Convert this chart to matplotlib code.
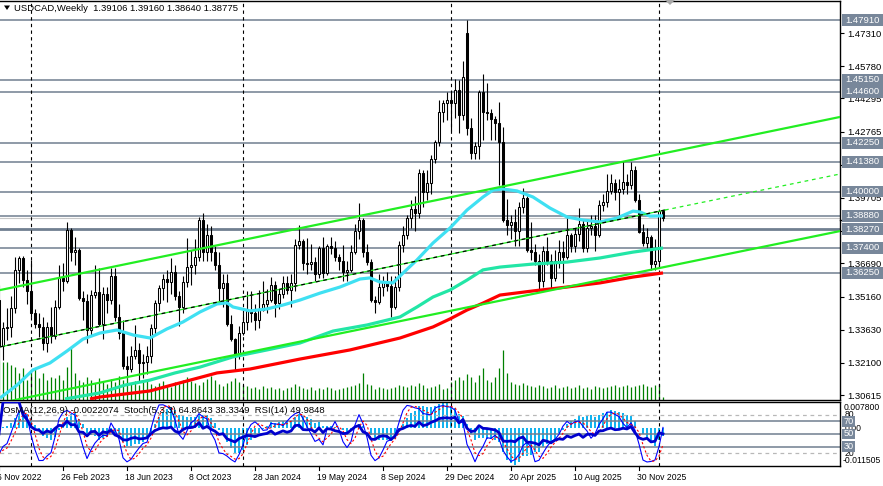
import numpy as np
import matplotlib
matplotlib.use("Agg")
import matplotlib.pyplot as plt
from matplotlib.patches import Rectangle, Polygon
from matplotlib.lines import Line2D
from matplotlib.transforms import blended_transform_factory as blend
from matplotlib import font_manager

plt.rcParams['font.family'] = ['Liberation Sans', 'DejaVu Sans']

# ---------------- data ----------------
symbol_title = "USDCAD,Weekly"
header_ohlc = "1.39106 1.39160 1.38640 1.38775"
indicator_header = "OsMA(12,26,9) -0.0022074  Stoch(5,3,3) 64.8643 38.3349  RSI(14) 49.9848"

opens = [
    1.3500, 1.3290, 1.3370, 1.3377, 1.3462, 1.3639, 1.3693, 1.3593, 1.3540, 1.3440,
    1.3390, 1.3375, 1.3302, 1.3375, 1.3335, 1.3470, 1.3600, 1.3590, 1.3823, 1.3723,
    1.3731, 1.3510, 1.3495, 1.3361, 1.3525, 1.3538, 1.3390, 1.3530, 1.3500, 1.3610,
    1.3420, 1.3350, 1.3195, 1.3180, 1.3240, 1.3270, 1.3209, 1.3216, 1.3240, 1.3371,
    1.3485, 1.3554, 1.3596, 1.3585, 1.3631, 1.3520, 1.3470, 1.3585, 1.3654, 1.3660,
    1.3700, 1.3869, 1.3720, 1.3800, 1.3720, 1.3660, 1.3555, 1.3580, 1.3390, 1.3320,
    1.3250, 1.3350, 1.3400, 1.3450, 1.3440, 1.3410, 1.3455, 1.3480, 1.3500, 1.3570,
    1.3485, 1.3530, 1.3580, 1.3545, 1.3580, 1.3755, 1.3770, 1.3670, 1.3665, 1.3675,
    1.3620, 1.3740, 1.3625, 1.3750, 1.3740, 1.3700, 1.3680, 1.3630, 1.3640, 1.3720,
    1.3820, 1.3869, 1.3723, 1.3677, 1.3500, 1.3490, 1.3560, 1.3585, 1.3565, 1.3470,
    1.3560, 1.3754, 1.3800, 1.3880, 1.3920, 1.3900, 1.4086, 1.3998, 1.4040, 1.4150,
    1.4230, 1.4368, 1.4408, 1.4420, 1.4410, 1.4468, 1.4353, 1.4730, 1.4292, 1.4178,
    1.4210, 1.4460, 1.4368, 1.4360, 1.4336, 1.4316, 1.4230, 1.3870, 1.3845, 1.3860,
    1.3820, 1.3930, 1.3970, 1.3731, 1.3720, 1.3680, 1.3590, 1.3725, 1.3680, 1.3600,
    1.3680, 1.3720, 1.3700, 1.3800, 1.3750, 1.3805, 1.3850, 1.3740, 1.3830, 1.3840,
    1.3800, 1.3938, 1.3950, 1.4005, 1.4040, 1.4000, 1.4010, 1.4045, 1.4030, 1.4100,
    1.3960, 1.3815, 1.3765, 1.3790, 1.3665, 1.3680, 1.39106,
]
highs = [
    1.3570, 1.3400, 1.3465, 1.3520, 1.3700, 1.3705, 1.3705, 1.3640, 1.3685, 1.3460,
    1.3440, 1.3420, 1.3400, 1.3470, 1.3500, 1.3660, 1.3670, 1.3862, 1.3830, 1.3790,
    1.3740, 1.3540, 1.3530, 1.3545, 1.3660, 1.3650, 1.3560, 1.3560, 1.3650, 1.3650,
    1.3480, 1.3410, 1.3240, 1.3290, 1.3385, 1.3300, 1.3250, 1.3290, 1.3390, 1.3500,
    1.3570, 1.3620, 1.3640, 1.3695, 1.3660, 1.3540, 1.3610, 1.3785, 1.3730, 1.3780,
    1.3885, 1.3899, 1.3850, 1.3840, 1.3750, 1.3720, 1.3620, 1.3620, 1.3430, 1.3325,
    1.3380, 1.3440, 1.3540, 1.3540, 1.3480, 1.3545, 1.3590, 1.3550, 1.3605, 1.3590,
    1.3550, 1.3610, 1.3610, 1.3620, 1.3780, 1.3846, 1.3780, 1.3785, 1.3760, 1.3700,
    1.3750, 1.3790, 1.3760, 1.3790, 1.3770, 1.3710, 1.3755, 1.3680, 1.3755, 1.3850,
    1.3946, 1.3880, 1.3760, 1.3690, 1.3520, 1.3620, 1.3610, 1.3630, 1.3610, 1.3610,
    1.3770, 1.3840, 1.3890, 1.3960, 1.3980, 1.4105, 1.4100, 1.4100, 1.4170, 1.4240,
    1.4420, 1.4420, 1.4460, 1.4460, 1.4520, 1.4515, 1.4600, 1.4791, 1.4340, 1.4230,
    1.4470, 1.4541, 1.4500, 1.4380, 1.4350, 1.4415, 1.4300, 1.3965, 1.3890, 1.3920,
    1.3950, 1.4015, 1.3980, 1.3860, 1.3760, 1.3710, 1.3750, 1.3790, 1.3710, 1.3730,
    1.3775, 1.3770, 1.3880, 1.3810, 1.3830, 1.3925, 1.3870, 1.3870, 1.3890, 1.3890,
    1.3960, 1.3990, 1.4080, 1.4080, 1.4060, 1.4060, 1.4140, 1.4080, 1.4138, 1.4120,
    1.3990, 1.3850, 1.3830, 1.3800, 1.3780, 1.3920, 1.39160,
]
lows = [
    1.3225, 1.3225, 1.3315, 1.3330, 1.3440, 1.3580, 1.3560, 1.3480, 1.3420, 1.3370,
    1.3330, 1.3270, 1.3262, 1.3300, 1.3320, 1.3460, 1.3540, 1.3580, 1.3680, 1.3660,
    1.3500, 1.3410, 1.3300, 1.3340, 1.3510, 1.3380, 1.3320, 1.3440, 1.3480, 1.3405,
    1.3320, 1.3180, 1.3140, 1.3170, 1.3230, 1.3120, 1.3140, 1.3160, 1.3210, 1.3340,
    1.3450, 1.3500, 1.3490, 1.3530, 1.3500, 1.3380, 1.3440, 1.3560, 1.3570, 1.3620,
    1.3680, 1.3680, 1.3680, 1.3680, 1.3640, 1.3480, 1.3470, 1.3380, 1.3310, 1.3178,
    1.3230, 1.3340, 1.3360, 1.3400, 1.3360, 1.3370, 1.3450, 1.3440, 1.3490, 1.3420,
    1.3460, 1.3510, 1.3530, 1.3470, 1.3540, 1.3735, 1.3640, 1.3620, 1.3640, 1.3590,
    1.3600, 1.3600, 1.3615, 1.3710, 1.3680, 1.3640, 1.3590, 1.3590, 1.3630, 1.3710,
    1.3780, 1.3700, 1.3660, 1.3490, 1.3440, 1.3480, 1.3520, 1.3540, 1.3420, 1.3460,
    1.3540, 1.3720, 1.3780, 1.3830, 1.3820, 1.3880, 1.3930, 1.3960, 1.3990, 1.4130,
    1.4210, 1.4320, 1.4330, 1.4280, 1.4340, 1.4270, 1.4330, 1.4260, 1.4150, 1.4150,
    1.4150, 1.4240, 1.4330, 1.4240, 1.4240, 1.4030, 1.3860, 1.3800, 1.3780, 1.3750,
    1.3750, 1.3900, 1.3720, 1.3685, 1.3660, 1.3540, 1.3560, 1.3660, 1.3556, 1.3590,
    1.3650, 1.3580, 1.3690, 1.3720, 1.3720, 1.3770, 1.3720, 1.3720, 1.3800, 1.3725,
    1.3790, 1.3910, 1.3930, 1.3990, 1.3960, 1.3890, 1.3990, 1.3990, 1.4010, 1.3950,
    1.3810, 1.3750, 1.3740, 1.3640, 1.3640, 1.3650, 1.38640,
]
closes = [
    1.3290, 1.3370, 1.3377, 1.3462, 1.3639, 1.3693, 1.3593, 1.3540, 1.3440, 1.3390,
    1.3375, 1.3302, 1.3375, 1.3335, 1.3470, 1.3600, 1.3590, 1.3823, 1.3723, 1.3731,
    1.3510, 1.3495, 1.3361, 1.3525, 1.3538, 1.3390, 1.3530, 1.3500, 1.3610, 1.3420,
    1.3350, 1.3195, 1.3180, 1.3240, 1.3270, 1.3209, 1.3216, 1.3240, 1.3371, 1.3485,
    1.3554, 1.3596, 1.3585, 1.3631, 1.3520, 1.3470, 1.3585, 1.3654, 1.3660, 1.3700,
    1.3869, 1.3720, 1.3800, 1.3720, 1.3660, 1.3555, 1.3580, 1.3390, 1.3320, 1.3250,
    1.3350, 1.3400, 1.3450, 1.3440, 1.3410, 1.3455, 1.3480, 1.3500, 1.3570, 1.3485,
    1.3530, 1.3580, 1.3545, 1.3580, 1.3755, 1.3770, 1.3670, 1.3665, 1.3675, 1.3620,
    1.3740, 1.3625, 1.3750, 1.3740, 1.3700, 1.3680, 1.3630, 1.3640, 1.3720, 1.3820,
    1.3869, 1.3723, 1.3677, 1.3500, 1.3490, 1.3560, 1.3585, 1.3565, 1.3470, 1.3560,
    1.3754, 1.3800, 1.3880, 1.3920, 1.3900, 1.4086, 1.3998, 1.4040, 1.4150, 1.4230,
    1.4368, 1.4408, 1.4420, 1.4410, 1.4468, 1.4353, 1.4530, 1.4292, 1.4178, 1.4210,
    1.4460, 1.4368, 1.4360, 1.4336, 1.4316, 1.4230, 1.3870, 1.3845, 1.3860, 1.3820,
    1.3930, 1.3970, 1.3731, 1.3720, 1.3680, 1.3590, 1.3725, 1.3680, 1.3600, 1.3680,
    1.3720, 1.3700, 1.3800, 1.3750, 1.3805, 1.3850, 1.3740, 1.3830, 1.3840, 1.3800,
    1.3938, 1.3950, 1.4005, 1.4040, 1.4000, 1.4010, 1.4045, 1.4030, 1.4100, 1.3960,
    1.3815, 1.3765, 1.3790, 1.3665, 1.3680, 1.3911, 1.38775,
]
volumes = [
    400, 380, 380, 350, 330, 270, 320, 200, 270, 320, 220, 270, 200, 230, 220, 250,
    200, 330, 520, 270, 200, 180, 230,
    200, 170, 220, 190, 160, 210, 180, 240, 200, 220, 170, 190, 150, 180, 210, 160,
    140, 170, 190, 150, 130, 180, 160, 200, 230, 190, 170, 150, 180, 210, 240, 200,
    160, 140, 170, 190, 220, 180,
    150, 140, 120, 130, 110, 140, 120, 130, 110, 120, 100, 120, 130, 160, 140, 120,
    110, 130, 100, 120, 110, 130, 120, 100, 110, 120, 130, 140, 150, 170, 270, 160,
    150, 110, 130, 120, 110, 120, 130, 150, 140, 130, 150, 140, 170, 150, 120, 130,
    140, 160, 110, 120,
    180, 200, 230, 200, 260, 230, 180, 250, 320, 200, 180, 230, 320, 500, 270, 180,
    160, 150, 170, 150, 140, 130, 150, 140, 120, 130, 150, 120, 130, 140, 120, 130,
    150, 120, 130, 110, 140, 130, 120, 130, 140, 150, 130, 140, 150, 130, 140, 150,
    160, 140, 130, 150, 160, 30,
]

# moving averages (bar index, price)
ema50_bars = [0.25, 4.5, 8.5, 12.75, 17, 21, 25.25, 29.5, 33.5, 37.75, 42, 46, 50.25, 54.5, 57,
              58.5, 62.75, 67, 71, 75.25, 80.25, 85.25, 90.25, 92.75, 95.25, 98.5, 100.25,
              104.5, 108.5, 112.75, 117, 121, 123.5, 126, 129.5, 133.5, 137.75, 142, 146,
              150.25, 154.5, 158.5, 160.25, 162.75, 166]
ema50_vals = [1.3048, 1.3108, 1.3178, 1.3210, 1.3265, 1.3320, 1.3348, 1.3362, 1.3339, 1.3325,
              1.3367, 1.3399, 1.3445, 1.3482, 1.3487, 1.3468, 1.3450, 1.3459, 1.3477, 1.3500,
              1.3532, 1.3560, 1.3597, 1.3602, 1.3583, 1.3579, 1.3611, 1.3685, 1.3763, 1.3832,
              1.3915, 1.3975, 1.4007, 1.4012, 1.4003, 1.3975, 1.3924, 1.3883, 1.3869, 1.3860,
              1.3878, 1.3910, 1.3906, 1.3887, 1.3888]
ema144_bars = [16.5, 25.25, 31.5, 37.75, 44, 50.25, 58.5, 67, 75.25, 83.5, 92, 100.25, 104.5,
               108.5, 112.75, 117, 121, 125.25, 133.5, 142, 150.25, 158.5, 166]
ema144_vals = [1.3044, 1.3072, 1.3108, 1.3131, 1.3164, 1.3191, 1.3238, 1.3270, 1.3302, 1.3357,
               1.3385, 1.3422, 1.3468, 1.3514, 1.3546, 1.3592, 1.3639, 1.3652, 1.3666, 1.3675,
               1.3694, 1.3721, 1.3740]
ema200_bars = [22.75, 25.25, 37.75, 46, 54.5, 62.75, 75.25, 87.75, 100.25, 108.5, 112.75, 117,
               121, 125.25, 133.5, 142, 150.25, 158.5, 166]
ema200_vals = [1.3044, 1.3053, 1.3081, 1.3122, 1.3164, 1.3182, 1.3228, 1.3270, 1.3325, 1.3376,
               1.3413, 1.3454, 1.3486, 1.3523, 1.3542, 1.3560, 1.3579, 1.3606, 1.3625]

# trend channel anchors (bar index, price)
channel_upper_bars = [0.25, 210.25]
channel_upper_vals = [1.3546, 1.4344]
channel_lower_bars = [0.25, 210.25]
channel_lower_vals = [1.3025, 1.3818]
channel_mid_bars = [0.25, 210.25]
channel_mid_vals = [1.3284, 1.4081]

levels = [1.47910, 1.45150, 1.44600, 1.42250, 1.41380, 1.40000, 1.38880, 1.38270, 1.37400, 1.36250]
price_ticks = [1.47310, 1.45780, 1.44295, 1.42765, 1.41235, 1.39705, 1.38175,
               1.36690, 1.35160, 1.33630, 1.32100, 1.30615]
date_labels = ["6 Nov 2022", "26 Feb 2023", "18 Jun 2023", "8 Oct 2023", "28 Jan 2024",
               "19 May 2024", "8 Sep 2024", "29 Dec 2024", "20 Apr 2025", "10 Aug 2025",
               "30 Nov 2025"]
date_label_bars = [0, 16, 32, 48, 64, 80, 96, 112, 128, 144, 160]
year_separator_bars = [8, 61, 113, 165]
osma_top, osma_bottom = 0.0078, -0.011505
rsi_levels = [70, 50, 30]
stoch_levels = [80, 20]

# ---------------- indicators derived from the candles ----------------
o = np.array(opens); h = np.array(highs); l = np.array(lows); c = np.array(closes)
N = len(c)
x = np.arange(N)


def ema(v, n):
    a = 2.0 / (n + 1)
    out = np.empty(len(v))
    out[0] = v[0]
    for k in range(1, len(v)):
        out[k] = a * v[k] + (1 - a) * out[k - 1]
    return out


macd = ema(c, 12) - ema(c, 26)
signal = np.array([macd[max(0, k - 8):k + 1].mean() for k in range(N)])
osma = macd - signal

ll = np.array([l[max(0, k - 4):k + 1].min() for k in range(N)])
hh = np.array([h[max(0, k - 4):k + 1].max() for k in range(N)])
num = c - ll
den = hh - ll
stoch_k = np.array([100 * num[max(0, k - 2):k + 1].sum() / max(den[max(0, k - 2):k + 1].sum(), 1e-9)
                    for k in range(N)])
stoch_d = np.array([stoch_k[max(0, k - 2):k + 1].mean() for k in range(N)])

d = np.diff(c)
g = np.where(d > 0, d, 0.0)
s = np.where(d < 0, -d, 0.0)
ag, al = g[:14].mean(), s[:14].mean()
rsi = np.full(N, 50.0)
for k in range(1, N):
    if k > 14:
        ag = (ag * 13 + g[k - 1]) / 14
        al = (al * 13 + s[k - 1]) / 14
    else:
        ag = g[:k].mean()
        al = s[:k].mean()
    rsi[k] = 100 - 100 / (1 + ag / al) if al > 0 else 100

# ---------------- figure ----------------
W, H = 883, 486
fig = plt.figure(figsize=(W / 100, H / 100), dpi=100, facecolor='white')


def fx(px):
    return px / W


def fy(py):
    return 1 - py / H


LEVEL_C = '#707F90'
BOX_C = '#78879A'
LIME = '#22EE22'
XL = (0.25, 210.25)

ax_vol = fig.add_axes([0, fy(400), fx(840), 399 / H])
ax = fig.add_axes([0, fy(400), fx(840), 399 / H])
ax.patch.set_visible(False)

ax_vol.set_xlim(*XL)
ax_vol.set_ylim(0, 3990)
ax_vol.axis('off')
ax_vol.vlines(x, 0, volumes, color='#008000', lw=0.9)

ax.set_xlim(*XL)
ax.set_ylim(1.30392, 1.48786)

for lv in levels:
    ax.axhline(lv, color=LEVEL_C, lw=2.0 if lv == 1.38270 else 1.1, zorder=1)
ax.axhline(closes[-1], color='#C8C8C8', lw=0.8, zorder=1)

for b in year_separator_bars:
    ax.axvline(b, color='black', lw=0.8, ls=(0, (3, 3)), zorder=2)

# candles
ax.vlines(x, l, h, color='black', lw=0.8, zorder=3)
body_lo = np.minimum(o, c)
body_h = np.maximum(np.abs(c - o), 0.00012)
fills = ['white' if cc >= oo else 'black' for oo, cc in zip(o, c)]
ax.bar(x, body_h, bottom=body_lo, width=0.62, color=fills, edgecolor='black', linewidth=0.75, zorder=3.5)

# moving averages
ax.plot(ema200_bars, ema200_vals, color='#FF0000', lw=2.3, zorder=4, solid_capstyle='butt')
ax.plot(ema144_bars, ema144_vals, color='#22E6A6', lw=2.3, zorder=4, solid_capstyle='butt')
ax.plot(ema50_bars, ema50_vals, color='#3FE0F2', lw=2.3, zorder=4.2, solid_capstyle='butt')

# channel
ax.plot(channel_upper_bars, channel_upper_vals, color=LIME, lw=1.6, zorder=5)
ax.plot(channel_lower_bars, channel_lower_vals, color=LIME, lw=1.6, zorder=5)
split = N - 1 + 0.5
ys = np.interp(split, channel_mid_bars, channel_mid_vals)
ax.plot([channel_mid_bars[0], split], [channel_mid_vals[0], ys], color=LIME, lw=0.9, zorder=5)
ax.plot([channel_mid_bars[0], split], [channel_mid_vals[0], ys], color='black', lw=0.9,
        ls=(0, (3, 3)), zorder=5.1)
ax.plot([split, channel_mid_bars[1]], [ys, channel_mid_vals[1]], color=LIME, lw=0.9,
        ls=(0, (3, 3)), zorder=5)

# axes cosmetics
ax.spines['left'].set_visible(False)
for sp in ['top', 'right', 'bottom']:
    ax.spines[sp].set_color('black')
    ax.spines[sp].set_linewidth(1.0)
ax.set_xticks([])
ax.yaxis.tick_right()
ax.set_yticks(price_ticks)
ax.set_yticklabels([f"{t:.5f}" for t in price_ticks])
ax.tick_params(axis='y', length=3, width=0.8, pad=2, labelsize=6.8, colors='black')

tb = blend(fig.transFigure, ax.transData)
for lv in levels:
    ax.add_patch(Rectangle((fx(842), lv - 0.0027), fx(41), 0.0054, transform=tb,
                           fc=BOX_C, ec='none', clip_on=False, zorder=20))
    ax.text(fx(845), lv, f"{lv:.5f}", transform=tb, color='white', fontsize=6.8,
            va='center', ha='left', zorder=21, clip_on=False)
ax.add_line(Line2D([fx(840), fx(883)], [1.3870, 1.3870], transform=tb, color='black',
                   lw=1.0, clip_on=False, zorder=19))

# headers
fig.add_artist(Polygon([(fx(4), fy(5.5)), (fx(10), fy(5.5)), (fx(7), fy(10))],
                       closed=True, transform=fig.transFigure, fc='black', ec='none'))
fig.text(fx(14), fy(8.5), f"{symbol_title}  {header_ohlc}", fontsize=6.8, va='center', ha='left')
fig.add_artist(Polygon([(fx(665), fy(0)), (fx(675), fy(0)), (fx(670), fy(5))],
                       closed=True, transform=fig.transFigure, fc='#A8A8A8', ec='none'))

# ---------------- indicator panel ----------------
ax_osma = fig.add_axes([0, fy(466), fx(840), 64 / H])
ax_ind = fig.add_axes([0, fy(466), fx(840), 64 / H])
ax_ind.patch.set_visible(False)
ax_osma.set_xlim(*XL)
# window auto-fits the histogram while keeping the zero line where the reference has it
fit = max(osma.max() / osma_top, osma.min() / osma_bottom)
ax_osma.set_ylim(osma_bottom * fit * 1.02, osma_top * fit * 1.02)
ax_osma.axis('off')
ax_osma.bar(x, osma, width=0.72, color='#12B2EE', zorder=2)

ax_ind.set_xlim(*XL)
ax_ind.set_ylim(0, 100)
for lv in stoch_levels:
    ax_ind.axhline(lv, color='#B8B8B8', lw=0.9, ls=(0, (3, 3)), zorder=1)
for lv in rsi_levels:
    ax_ind.axhline(lv, color=LEVEL_C, lw=1.1, zorder=1)
for b in year_separator_bars:
    ax_ind.axvline(b, color='black', lw=0.8, ls=(0, (3, 3)), zorder=2)
ax_ind.plot(x, stoch_k, color='#0000FF', lw=0.8, zorder=3)
ax_ind.plot(x, stoch_d, color='#FF0000', lw=0.8, ls=(0, (2, 2)), zorder=3)
ax_ind.plot(x, rsi, color='#0000CD', lw=2.0, zorder=4)
ax_ind.set_xticks([])
ax_ind.set_yticks([])
ax_ind.spines['left'].set_visible(False)
for sp in ['top', 'right', 'bottom']:
    ax_ind.spines[sp].set_color('black')
    ax_ind.spines[sp].set_linewidth(1.0)

fig.text(fx(3), fy(410), indicator_header, fontsize=6.8, va='center', ha='left', zorder=10)

ti = blend(fig.transFigure, ax_ind.transData)
fig.text(fx(844), fy(407.5), f"{osma_top:.6f}", fontsize=6.2, va='center', ha='left')
fig.text(fx(845), fy(428), "0.00", fontsize=6.2, va='center', ha='left')
fig.text(fx(843), fy(460.5), f"{osma_bottom:.6f}", fontsize=6.2, va='center', ha='left')
for lv in stoch_levels:
    fig.text(fx(845), lv, f"{lv}", transform=ti, fontsize=6.2, va='center', ha='left')
for lv in rsi_levels:
    fig.add_artist(Rectangle((fx(842), lv - 8.5), fx(13), 17, transform=ti,
                             fc=BOX_C, ec='none', zorder=20))
    fig.text(fx(844), lv, f"{lv}", transform=ti, fontsize=6.6, va='center', ha='left',
             color='white', zorder=21)

# dates
def has_font(name):
    try:
        font_manager.findfont(font_manager.FontProperties(family=name), fallback_to_default=False)
        return True
    except Exception:
        return False


if has_font('Liberation Sans Narrow'):
    dfont = dict(family='Liberation Sans Narrow', fontsize=7.2)
else:
    dfont = dict(family='Liberation Sans', fontsize=6.2)

td = blend(ax_ind.transData, fig.transFigure)
for b, lab in zip(date_label_bars, date_labels):
    fig.add_artist(Line2D([b, b], [fy(466), fy(470)], transform=td, color='black', lw=0.8))
    fig.text(b - 0.6, fy(477), lab, transform=td, va='center', ha='left', **dfont)

fig.savefig("out.png", dpi=100, facecolor='white')
